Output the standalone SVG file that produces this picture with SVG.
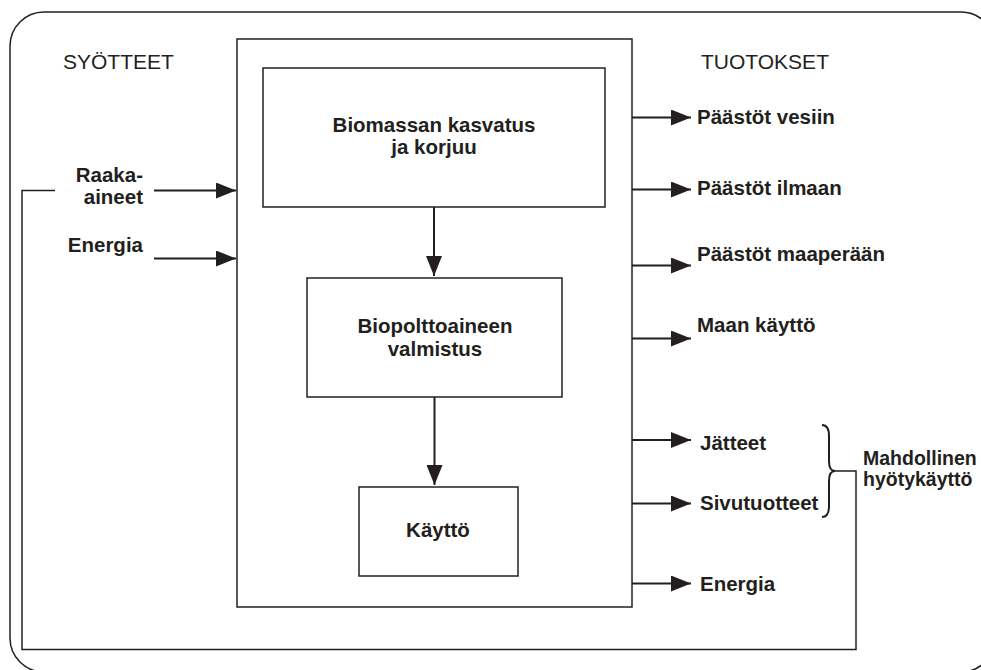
<svg xmlns="http://www.w3.org/2000/svg" width="981" height="670" viewBox="0 0 981 670">
<defs>
<style>
.box{fill:#fff;stroke:#231f20;stroke-width:1.5}
.ln{fill:none;stroke:#231f20;stroke-width:2}
.fb{fill:none;stroke:#231f20;stroke-width:1.5}
.b{font-family:"Liberation Sans",Arial,sans-serif;font-weight:bold;font-size:20.5px;fill:#231f20}
.s{font-size:19.5px}
.r{font-family:"Liberation Sans",Arial,sans-serif;font-size:21px;fill:#231f20}
</style>
<marker id="ah" viewBox="0 0 20 16" refX="20" refY="8" markerWidth="20" markerHeight="16" markerUnits="userSpaceOnUse" orient="auto">
<path d="M0,0 L20,8 L0,16 Z" fill="#231f20"/>
</marker>
</defs>
<rect width="981" height="670" fill="#fff"/>
<rect id="frame" x="10" y="12" width="985" height="660" rx="34" ry="34" fill="none" stroke="#231f20" stroke-width="1.5"/>
<g id="system"><rect class="box" x="237" y="39" width="395" height="568"/></g>
<g id="n-biomassa">
<rect class="box" x="263" y="68" width="342" height="139"/>
<text class="b" x="434" y="132" text-anchor="middle">Biomassan kasvatus</text>
<text class="b" x="434" y="154" text-anchor="middle">ja korjuu</text>
</g>
<g id="n-valmistus">
<rect class="box" x="307" y="278" width="255" height="119"/>
<text class="b" x="435" y="333" text-anchor="middle">Biopolttoaineen</text>
<text class="b" x="435" y="356" text-anchor="middle">valmistus</text>
</g>
<g id="n-kaytto">
<rect class="box" x="359" y="487" width="159" height="89"/>
<text class="b" x="438" y="537" text-anchor="middle">Käyttö</text>
</g>
<g id="labels">
<text class="r" x="63" y="69">SYÖTTEET</text>
<text class="r" x="701" y="69">TUOTOKSET</text>
<text class="b" x="143" y="182" text-anchor="end">Raaka-</text>
<text class="b" x="143" y="204" text-anchor="end">aineet</text>
<text class="b" x="143" y="252" text-anchor="end">Energia</text>
<text class="b" x="697" y="124">Päästöt vesiin</text>
<text class="b" x="697" y="195">Päästöt ilmaan</text>
<text class="b" x="697" y="261">Päästöt maaperään</text>
<text class="b" x="697" y="332">Maan käyttö</text>
<text class="b" x="700" y="450">Jätteet</text>
<text class="b" x="700" y="510">Sivutuotteet</text>
<text class="b" x="700" y="591">Energia</text>
<text class="b s" x="863" y="465">Mahdollinen</text>
<text class="b s" x="863" y="486">hyötykäyttö</text>
</g>
<g id="connectors">
<line class="ln" x1="434" y1="207" x2="434" y2="276" marker-end="url(#ah)"/>
<line class="ln" x1="434.5" y1="397" x2="434.5" y2="485" marker-end="url(#ah)"/>
<line class="ln" x1="154" y1="190.5" x2="236" y2="190.5" marker-end="url(#ah)"/>
<line class="ln" x1="154" y1="258.5" x2="236" y2="258.5" marker-end="url(#ah)"/>
<line class="ln" x1="632" y1="117.5" x2="691" y2="117.5" marker-end="url(#ah)"/>
<line class="ln" x1="632" y1="189.5" x2="691" y2="189.5" marker-end="url(#ah)"/>
<line class="ln" x1="632" y1="265.5" x2="691" y2="265.5" marker-end="url(#ah)"/>
<line class="ln" x1="632" y1="338.5" x2="691" y2="338.5" marker-end="url(#ah)"/>
<line class="ln" x1="632" y1="440" x2="691" y2="440" marker-end="url(#ah)"/>
<line class="ln" x1="632" y1="503.5" x2="691" y2="503.5" marker-end="url(#ah)"/>
<line class="ln" x1="632" y1="583.5" x2="691" y2="583.5" marker-end="url(#ah)"/>
<path class="ln" d="M822,425 Q829,425 829,436 L829,461 Q829,471 835,471 Q829,471 829,481 L829,506 Q829,517 822,517"/>
<path class="fb" d="M835,471 H856 V649.5 H22 V190.5 H55"/>
</g>
</svg>
